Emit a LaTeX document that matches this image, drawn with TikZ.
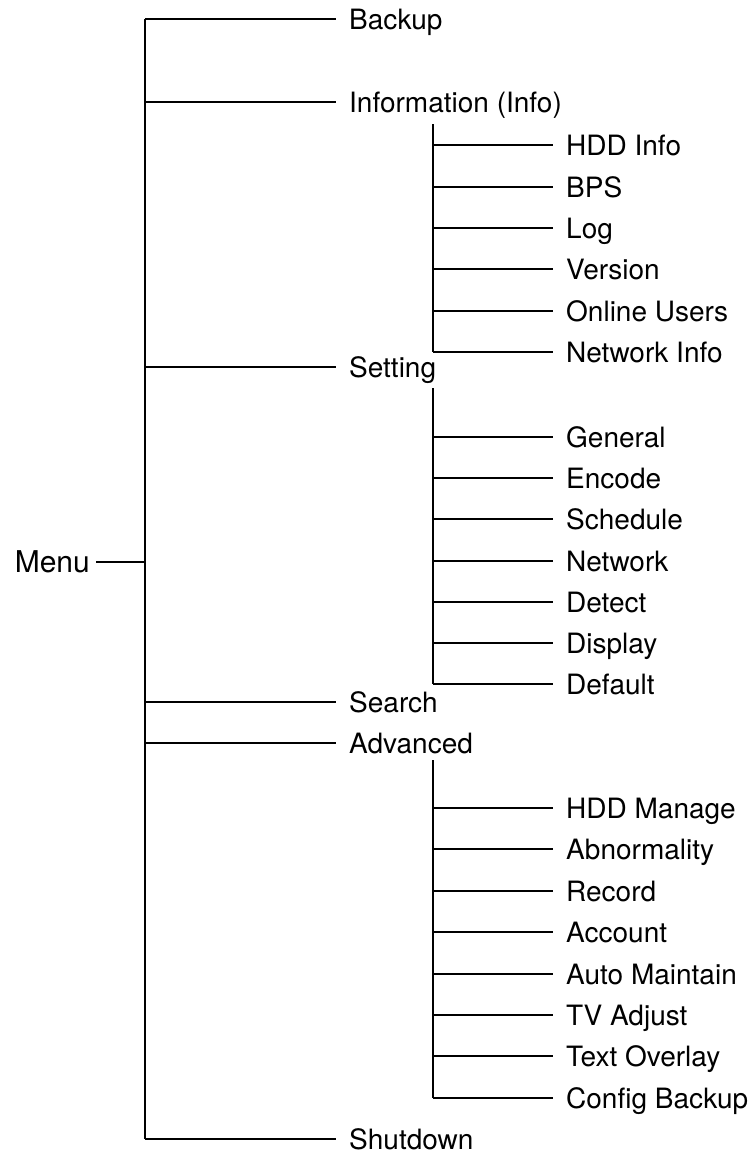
\documentclass[tikz,border=0pt]{standalone}
\usepackage{fontspec}
\setmainfont{TeX Gyre Heros}
\begin{document}
\begin{tikzpicture}[x=1pt,y=-1pt,
  ln/.style={line width=1.7pt},
  item/.style={anchor=west,inner xsep=13pt,inner ysep=0pt,text height=20pt,text depth=0pt,font=\fontsize{28}{30}\selectfont}]
\useasboundingbox (0,0) rectangle (751,1154);
% main level
\node[anchor=east,inner xsep=6pt,inner ysep=0pt,text height=20pt,text depth=0pt,font=\fontsize{30}{32}\selectfont] (menu) at (96,562) {Menu};
\coordinate (mj) at (145,562);
\draw[ln] (menu.east) -- (mj);
\foreach \n/\y/\t in {bk/19/Backup,inf/102/Information (Info),set/367/Setting,sea/702/Search,adv/743/Advanced,sd/1139/Shutdown}{
  \node[item] (\n) at (336,\y) {\t};
  \coordinate (\n j) at (145,\y);
  \draw[ln] (\n j) -- (\n.west);
}
\draw[ln] (bkj) -- (sdj);
% info
\coordinate (inftop) at (433,124);
\foreach \n/\y/\t in {i1/145/HDD Info,i2/187/BPS,i3/228/Log,i4/269/Version,i5/311/Online Users,i6/352/Network Info}{
  \node[item] (\n) at (553,\y) {\t};
  \coordinate (\n j) at (433,\y);
  \draw[ln] (\n j) -- (\n.west);
}
\draw[ln] (inftop) -- (i6j);
% setting
\coordinate (settop) at (433,388);
\foreach \n/\y/\t in {s1/437/General,s2/478/Encode,s3/519/Schedule,s4/561/Network,s5/602/Detect,s6/643/Display,s7/684/Default}{
  \node[item] (\n) at (553,\y) {\t};
  \coordinate (\n j) at (433,\y);
  \draw[ln] (\n j) -- (\n.west);
}
\draw[ln] (settop) -- (s7j);
% advanced
\coordinate (advtop) at (433,760);
\foreach \n/\y/\t in {a1/808/HDD Manage,a2/849/Abnormality,a3/891/Record,a4/932/Account,a5/974/Auto Maintain,a6/1015/TV Adjust,a7/1056/Text Overlay,a8/1098/Config Backup}{
  \node[item] (\n) at (553,\y) {\t};
  \coordinate (\n j) at (433,\y);
  \draw[ln] (\n j) -- (\n.west);
}
\draw[ln] (advtop) -- (a8j);
\end{tikzpicture}
\end{document}
